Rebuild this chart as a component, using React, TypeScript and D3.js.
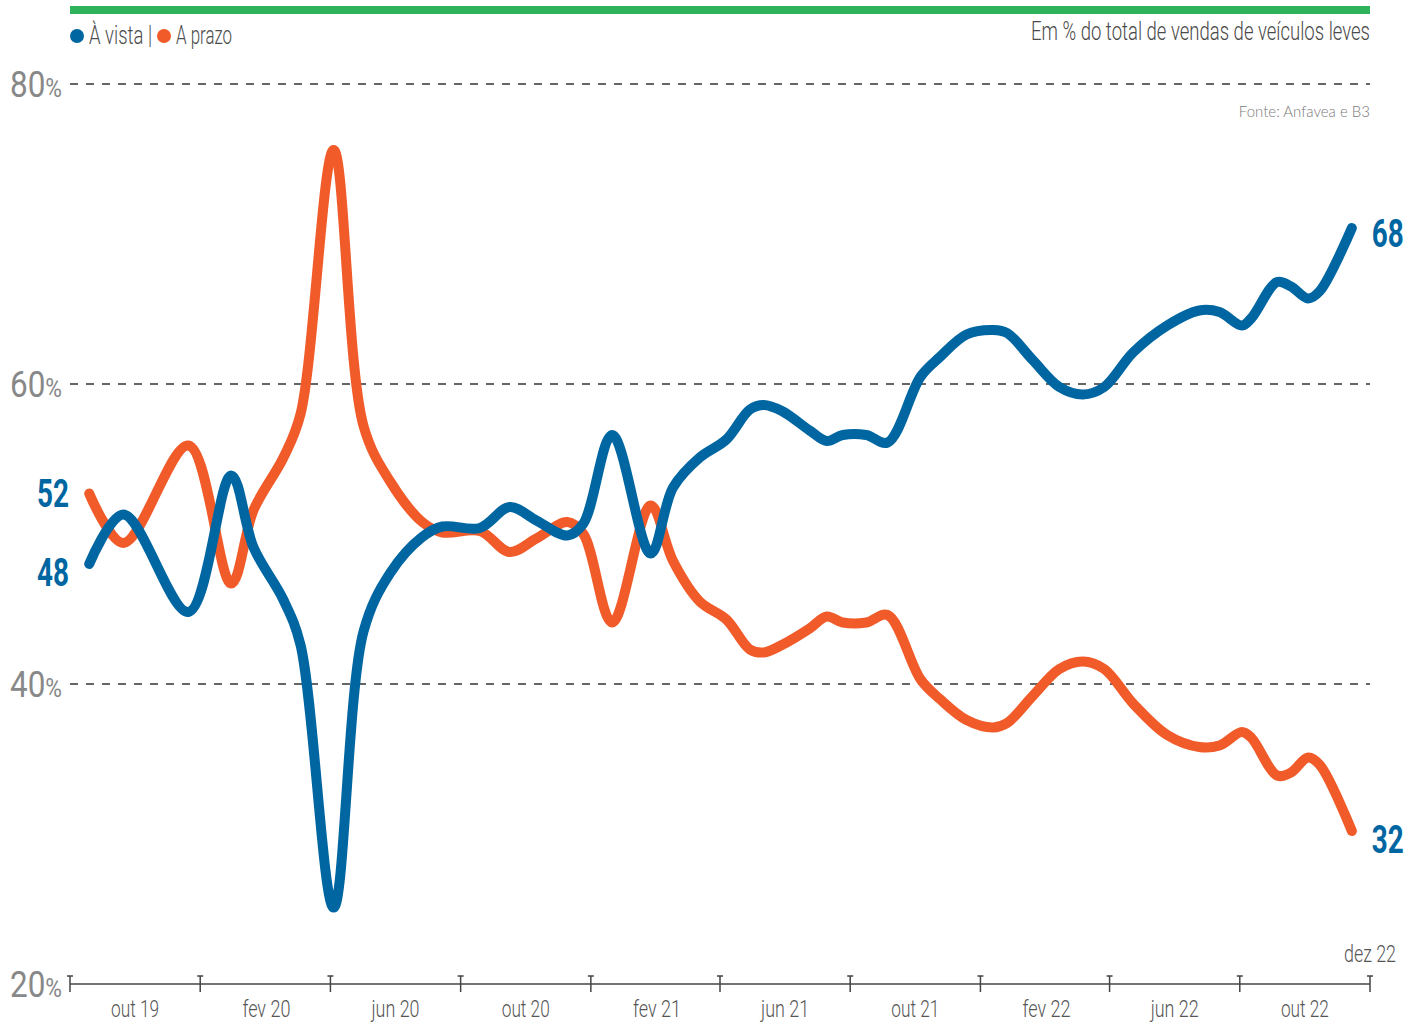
import React, { useRef, useEffect } from 'react'
import * as d3 from 'd3'

// leitura aproximada do gráfico (% do total de vendas de veículos leves)
const dates = [
  '2019-08-19', '2019-09-20', '2019-11-20', '2019-12-30', '2020-01-20', '2020-02-17',
  '2020-03-04', '2020-04-04', '2020-05-02', '2020-05-27', '2020-06-26', '2020-07-15',
  '2020-08-19', '2020-09-16', '2020-10-11', '2020-11-09', '2020-11-24', '2020-12-21',
  '2021-01-26', '2021-02-16', '2021-03-13', '2021-04-07', '2021-04-29', '2021-05-12',
  '2021-05-29', '2021-06-24', '2021-07-10', '2021-07-25', '2021-08-16', '2021-09-05',
  '2021-10-06', '2021-10-24', '2021-11-18', '2021-12-13', '2021-12-26', '2022-01-19',
  '2022-02-13', '2022-03-07', '2022-03-27', '2022-04-23', '2022-05-25', '2022-06-24',
  '2022-07-13', '2022-08-03', '2022-08-12', '2022-09-05', '2022-09-18', '2022-10-04',
  '2022-10-15', '2022-11-14',
]

const aVista = [
  48.0, 51.3, 44.8, 53.9, 49.1, 45.6,
  42.6, 25.1, 43.5, 47.4, 49.8, 50.5,
  50.4, 51.8, 50.9, 49.9, 50.7, 56.6,
  48.7, 53.1, 55.1, 56.3, 58.3, 58.6,
  58.2, 56.9, 56.2, 56.6, 56.6, 56.1,
  60.5, 61.8, 63.3, 63.6, 63.4, 61.6,
  59.8, 59.3, 59.8, 62.1, 63.9, 64.9,
  64.8, 63.9, 64.4, 66.8, 66.5, 65.7,
  66.2, 70.4,
]

const aPrazo = [
  52.7, 49.4, 55.9, 46.7, 51.6, 55.1,
  58.0, 75.6, 57.2, 53.5, 50.8, 50.1,
  50.2, 48.8, 49.7, 50.8, 50.0, 44.1,
  51.9, 48.2, 45.5, 44.3, 42.3, 42.1,
  42.6, 43.7, 44.5, 44.1, 44.1, 44.6,
  40.3, 39.0, 37.6, 37.1, 37.4, 39.2,
  41.0, 41.5, 41.0, 38.7, 36.6, 35.8,
  35.9, 36.8, 36.4, 33.9, 34.1, 35.1,
  34.6, 30.2,
]

const seriesNames = ['À vista', 'A prazo']
const seriesColors = ['#0066a1', '#f15b2a']
const startLabels = ['48', '52']
const endLabels = ['68', '32']
const yTicks = [80, 60, 40, 20]
const monthNames = ['jan', 'fev', 'mar', 'abr', 'mai', 'jun', 'jul', 'ago', 'set', 'out', 'nov', 'dez']

const FONT = "Roboto, 'Liberation Sans Narrow', sans-serif"

export default function App() {
  const svgRef = useRef(null)
  const width = 1407
  const height = 1022

  useEffect(() => {
    document.body.style.margin = '0'
    if (!svgRef.current) return
    const svg = d3.select(svgRef.current)
    svg.selectAll('*').remove()

    const parse = d3.utcParse('%Y-%m-%d')
    const start = new Date(Date.UTC(2019, 7, 1))
    const end = new Date(Date.UTC(2022, 11, 1))
    const x = d3.scaleUtc().domain([start, end]).range([70, 1370])
    const y = d3.scaleLinear().domain([20, 80]).range([984, 84])

    // barra verde do topo
    svg.append('rect').attr('x', 70).attr('y', 6).attr('width', 1300).attr('height', 8)
      .attr('fill', '#2eb35c')

    // legenda
    const leg = svg.append('g')
    leg.append('circle').attr('cx', 77).attr('cy', 36).attr('r', 7).attr('fill', seriesColors[0])
    leg.append('text').attr('x', 89).attr('y', 44).text(seriesNames[0] + ' |')
      .attr('textLength', 63).attr('lengthAdjust', 'spacingAndGlyphs')
    leg.append('circle').attr('cx', 164).attr('cy', 36).attr('r', 7).attr('fill', seriesColors[1])
    leg.append('text').attr('x', 176).attr('y', 44).text(seriesNames[1])
      .attr('textLength', 56).attr('lengthAdjust', 'spacingAndGlyphs')
    leg.selectAll('text').attr('font-family', FONT).attr('font-weight', 300)
      .attr('font-size', 25).attr('fill', '#4d4d4d')

    svg.append('text').attr('x', 1370).attr('y', 40).attr('text-anchor', 'end')
      .attr('font-family', FONT).attr('font-weight', 300).attr('font-size', 25)
      .attr('fill', '#4a4a4a').attr('textLength', 339).attr('lengthAdjust', 'spacingAndGlyphs')
      .text('Em % do total de vendas de veículos leves')

    svg.append('text').attr('x', 1370).attr('y', 117).attr('text-anchor', 'end')
      .attr('font-family', 'Lato, sans-serif').attr('font-weight', 300).attr('font-size', 15)
      .attr('fill', '#7a7a7a').text('Fonte: Anfavea e B3')

    // grade
    svg.append('g').selectAll('line')
      .data(yTicks.filter(v => v !== 20))
      .enter().append('line')
      .attr('x1', 70).attr('x2', 1370)
      .attr('y1', d => y(d)).attr('y2', d => y(d))
      .attr('stroke', '#333').attr('stroke-width', 1.3).attr('stroke-dasharray', '8 8')

    const yl = svg.append('g').selectAll('text').data(yTicks).enter().append('text')
      .attr('x', 10).attr('y', d => y(d) + 13)
      .attr('font-family', FONT).attr('font-weight', 400).attr('fill', '#888')
      .attr('textLength', 52).attr('lengthAdjust', 'spacingAndGlyphs')
    yl.append('tspan').attr('font-size', 36).text(d => d)
    yl.append('tspan').attr('font-size', 26).text('%')

    // eixo x
    const ticks = d3.utcMonth.range(start, d3.utcDay.offset(end, 1), 4)
    const ax = svg.append('g').attr('stroke', '#444').attr('stroke-width', 1.5).attr('fill', 'none')
    ax.append('line').attr('x1', 70).attr('x2', 1370).attr('y1', y(20)).attr('y2', y(20))
    ax.selectAll('path').data(ticks).enter().append('path')
      .attr('d', d => `M${x(d) - 3},${y(20) - 8}H${x(d) + 3}M${x(d)},${y(20) - 8}V${y(20) + 8}`)

    const fmt = (d: Date) => `${monthNames[d.getUTCMonth()]} ${String(d.getUTCFullYear()).slice(2)}`
    svg.append('g').selectAll('text').data(ticks.slice(0, -1).map(d => d3.utcMonth.offset(d, 2)))
      .enter().append('text')
      .attr('x', d => x(d)).attr('y', 1017)
      .attr('text-anchor', 'middle').attr('font-family', FONT).attr('font-weight', 300)
      .attr('font-size', 24).attr('fill', '#555')
      .attr('textLength', 48).attr('lengthAdjust', 'spacingAndGlyphs')
      .text(d => fmt(d))

    svg.append('text').attr('x', x(end)).attr('y', 962).attr('text-anchor', 'middle')
      .attr('font-family', FONT).attr('font-weight', 300).attr('font-size', 24).attr('fill', '#555')
      .attr('textLength', 52).attr('lengthAdjust', 'spacingAndGlyphs')
      .text(fmt(end))

    // linhas
    const series = [aVista, aPrazo].map(vals => vals.map((v, i) => ({ date: parse(dates[i]), v })))
    const line = d3.line<any>().x(d => x(d.date)).y(d => y(d.v)).curve(d3.curveCatmullRom.alpha(0.5))

    const order = [1, 0]
    order.forEach(k => {
      svg.append('path').datum(series[k]).attr('d', line)
        .attr('fill', 'none').attr('stroke', seriesColors[k]).attr('stroke-width', 10)
        .attr('stroke-linecap', 'round').attr('stroke-linejoin', 'round')
    })

    // rótulos de início e fim
    const lab = svg.append('g').attr('font-family', FONT).attr('font-weight', 700)
      .attr('font-size', 38).attr('fill', seriesColors[0])
    const firstY = series.map(s => y(s[0].v))
    const lastY = series.map(s => y(s[s.length - 1].v))
    const lastX = x(series[0][series[0].length - 1].date)
    lab.append('text').attr('x', 69).attr('y', firstY[0] + 22).attr('text-anchor', 'end')
      .attr('textLength', 32).attr('lengthAdjust', 'spacingAndGlyphs').text(startLabels[0])
    lab.append('text').attr('x', 69).attr('y', firstY[1] + 13).attr('text-anchor', 'end')
      .attr('textLength', 32).attr('lengthAdjust', 'spacingAndGlyphs').text(startLabels[1])
    lab.append('text').attr('x', lastX + 20).attr('y', lastY[0] + 19)
      .attr('textLength', 32).attr('lengthAdjust', 'spacingAndGlyphs').text(endLabels[0])
    lab.append('text').attr('x', lastX + 20).attr('y', lastY[1] + 22)
      .attr('textLength', 32).attr('lengthAdjust', 'spacingAndGlyphs').text(endLabels[1])
  }, [])

  return (
    <svg ref={svgRef} width={width} height={height}
      style={{ display: 'block', position: 'absolute', left: 0, top: 0, background: '#fff' }} />
  )
}
